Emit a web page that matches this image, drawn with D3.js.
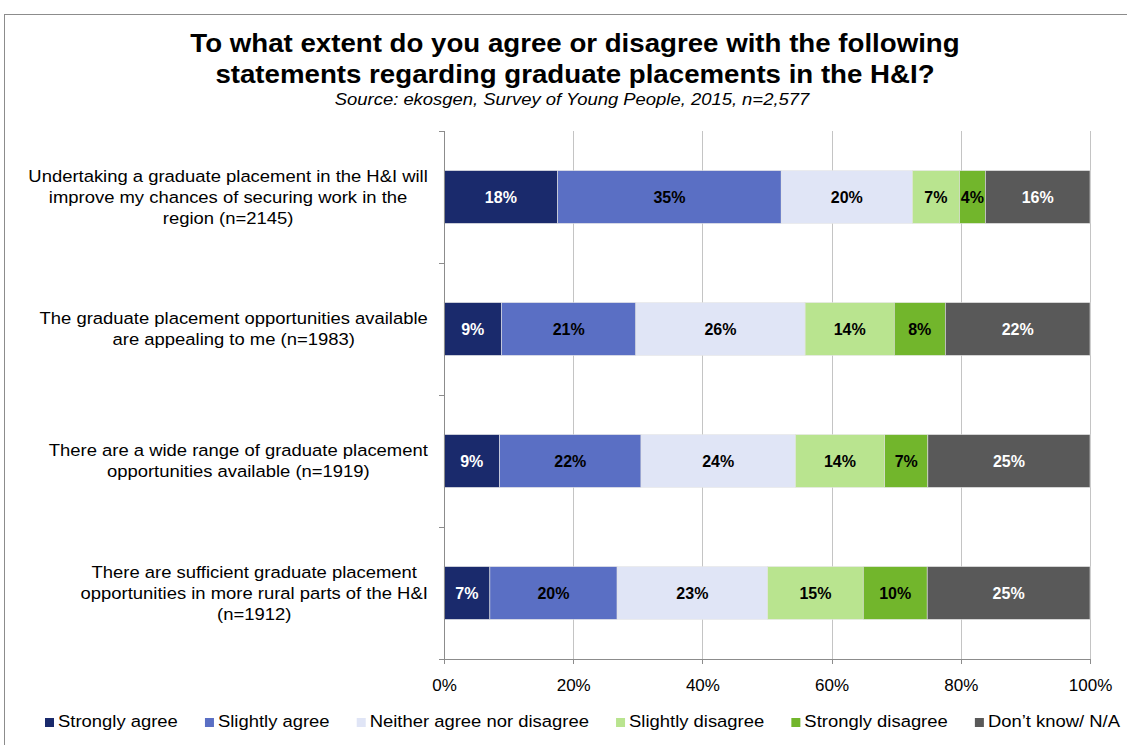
<!DOCTYPE html>
<html>
<head>
<meta charset="utf-8">
<style>
body { margin: 0; background: #fff; }
svg text { font-family: "Liberation Sans", Arial, sans-serif; }
.grid line { stroke: #c4c4c4; stroke-width: 1px; shape-rendering: crispEdges; }
.axis path, .axis line { fill: none; stroke: #8c8c8c; shape-rendering: crispEdges; }
.axis text { font-size: 17px; fill: #000; }
</style>
</head>
<body>
<svg width="1127" height="745"></svg>
<script src="https://d3js.org/d3.v7.min.js"></script>
<script>
// statements (rows, top to bottom), already wrapped as in the source
var statements = [
  ["Undertaking a graduate placement in the H&I will", "improve my chances of securing work in the", "region (n=2145)"],
  ["The graduate placement opportunities available", "are appealing to me (n=1983)"],
  ["There are a wide range of graduate placement", "opportunities available (n=1919)"],
  ["There are sufficient graduate placement", "opportunities in more rural parts of the H&I", "(n=1912)"]
];

var responses = ["Strongly agree", "Slightly agree", "Neither agree nor disagree", "Slightly disagree", "Strongly disagree", "Don\u2019t know/ N/A"];
var colors = ["#1a2a6c", "#5a6fc4", "#e0e5f6", "#b9e48f", "#72b62c", "#595959"];
var labelColors = ["#fff", "#000", "#000", "#000", "#000", "#fff"];

// percentages per statement, in response order
var stronglyAgree    = [17.6,  8.9,  8.6,  7.1];
var slightlyAgree    = [34.6, 20.8, 21.9, 19.7];
var neither          = [20.3, 26.2, 23.9, 23.3];
var slightlyDisagree = [ 7.3, 13.8, 13.8, 14.8];
var stronglyDisagree = [ 4.0,  7.9,  6.7,  9.9];
var dontKnow         = [16.2, 22.4, 25.1, 25.2];

var xTicks = [0, 20, 40, 60, 80, 100];

var series = [stronglyAgree, slightlyAgree, neither, slightlyDisagree, stronglyDisagree, dontKnow];
var data = statements.map(function(s, i) {
  var row = {id: i};
  responses.forEach(function(r, j) { row[r] = series[j][i]; });
  return row;
});

var svg = d3.select("svg"),
    margin = {top: 131, right: 37, bottom: 86, left: 444},
    width = 1127 - margin.left - margin.right,
    height = 745 - margin.top - margin.bottom;

// the source text is slightly wider than it is tall
var stretch = 1.085;
function place(sel, x, y) {
  sel.attr("transform", "translate(" + x + "," + y + ") scale(" + stretch + ",1)");
}

// outer frame
svg.append("rect")
    .attr("x", 4.5).attr("y", 14.5)
    .attr("width", 1140).attr("height", 760)
    .attr("fill", "none").attr("stroke", "#8c8c8c");

var g = svg.append("g").attr("transform", "translate(" + margin.left + "," + margin.top + ")");

var x = d3.scaleLinear().domain([0, 100]).range([0, width]);
var y = d3.scaleBand().domain(d3.range(statements.length)).range([0, height]).paddingInner(0.6).paddingOuter(0.3);
var yb = d3.scaleBand().domain(d3.range(statements.length)).range([0, height]);

// gridlines
g.append("g").attr("class", "grid")
  .selectAll("line").data(xTicks.slice(1)).enter().append("line")
    .attr("x1", function(d) { return Math.round(x(d)) + 0.5; })
    .attr("x2", function(d) { return Math.round(x(d)) + 0.5; })
    .attr("y1", 0).attr("y2", height);

var stack = d3.stack().keys(responses)(data);

var layer = g.append("g").selectAll("g")
  .data(stack).enter().append("g")
    .attr("fill", function(d, i) { return colors[i]; });

layer.selectAll("rect")
  .data(function(d) { return d; })
  .enter().append("rect")
    .attr("x", function(d) { return x(d[0]); })
    .attr("y", function(d, i) { return y(i); })
    .attr("width", function(d) { return x(d[1]) - x(d[0]); })
    .attr("height", y.bandwidth())
    .attr("stroke", "#e4e4e4")
    .attr("stroke-width", 0.6);

layer.selectAll("text")
  .data(function(d, k) { return d.map(function(p) { return {p: p, k: k}; }); })
  .enter().append("text")
    .attr("x", function(d) { return (x(d.p[0]) + x(d.p[1])) / 2; })
    .attr("y", function(d, i) { return y(i) + y.bandwidth() / 2; })
    .attr("dy", "0.36em")
    .attr("text-anchor", "middle")
    .attr("font-size", 16)
    .attr("font-weight", "bold")
    .attr("fill", function(d) { return labelColors[d.k]; })
    .text(function(d) { return Math.round(d.p[1] - d.p[0]) + "%"; });

// x axis
g.append("g")
    .attr("class", "axis")
    .attr("transform", "translate(0," + height + ")")
    .call(d3.axisBottom(x).tickValues(xTicks).tickSize(5).tickSizeOuter(0)
      .tickFormat(function(d) { return d + "%"; }))
    .call(function(a) { a.selectAll("text").attr("dy", "1.42em"); });

// y axis line with ticks between categories
var yAxis = g.append("g").attr("class", "axis");
yAxis.append("line").attr("x1", 0.5).attr("x2", 0.5).attr("y1", 0).attr("y2", height);
yAxis.selectAll(".tk").data(d3.range(statements.length + 1)).enter().append("line")
    .attr("class", "tk")
    .attr("x1", -5).attr("x2", 0)
    .attr("y1", function(d) { return Math.round(d < statements.length ? yb(d) : height) + 0.5; })
    .attr("y2", function(d) { return Math.round(d < statements.length ? yb(d) : height) + 0.5; });

// category labels: lines centred on each other, block right-aligned at the axis
var lineH = 21;
statements.forEach(function(lines, i) {
  var grp = svg.append("g");
  var t = grp.selectAll("text").data(lines).enter().append("text")
      .attr("font-size", 17)
      .attr("text-anchor", "middle")
      .attr("dy", "0.35em")
      .text(function(d) { return d; });
  var maxW = d3.max(t.nodes(), function(n) { return n.getComputedTextLength(); }) * stretch;
  t.each(function(d, k) {
    place(d3.select(this), 428 - maxW / 2,
      margin.top + y(i) + y.bandwidth() / 2 + (k - (lines.length - 1) / 2) * lineH);
  });
});

// title
var titleLines = ["To what extent do you agree or disagree with the following",
                  "statements regarding graduate placements in the H&I?"];
titleLines.forEach(function(s, k) {
  svg.append("text").attr("text-anchor", "middle")
    .attr("font-size", 25.5).attr("font-weight", "bold")
    .text(s)
    .call(place, 575, 52 + k * 31);
});
svg.append("text").attr("text-anchor", "middle")
  .attr("font-size", 17).attr("font-style", "italic")
  .text("Source: ekosgen, Survey of Young People, 2015, n=2,577")
  .call(place, 572, 105);

// legend: entries laid out left to right, spread between x=45 and x=1120
var legend = svg.append("g").selectAll("g")
  .data(responses).enter().append("g");
legend.append("rect")
    .attr("x", 0).attr("y", -3).attr("width", 9).attr("height", 9)
    .attr("fill", function(d, i) { return colors[i]; });
var legendText = legend.append("text")
    .attr("font-size", 17)
    .text(function(d) { return d; })
    .call(place, 13, 6);
var widths = legendText.nodes().map(function(n) { return 13 + n.getComputedTextLength() * stretch; });
var gap = (1120 - 45 - d3.sum(widths)) / (responses.length - 1);
var pos = 45;
legend.each(function(d, i) {
  d3.select(this).attr("transform", "translate(" + pos + ",721)");
  pos += widths[i] + gap;
});
</script>
</body>
</html>
